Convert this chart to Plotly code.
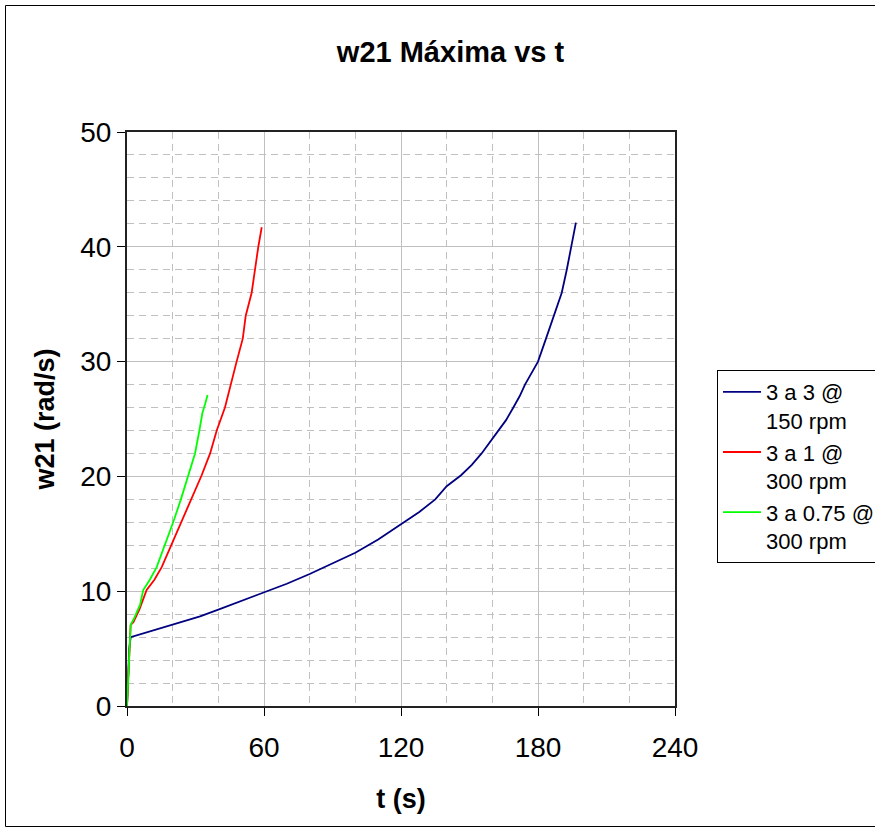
import plotly.graph_objects as go

# Series: time (s) and maximum w21 (rad/s)
t_3a3_150 = [0, 0.5, 1.0, 1.6, 5, 10, 20, 32, 40, 49.5, 60, 70, 80, 90, 100, 110, 120,
             128, 135, 140, 146.3, 151, 155.3, 159, 162.6, 166, 169.2, 172, 174.3, 177,
             180, 183.5, 187, 190.4, 192.6, 194.5, 195.6, 196.6]
w_3a3_150 = [0, 2.5, 5.0, 6.0, 6.2, 6.5, 7.05, 7.8, 8.4, 9.1, 9.85, 10.65, 11.5, 12.4, 13.35, 14.5, 15.8,
             16.9, 18.0, 19.15, 20.1, 21.0, 22.0, 23.0, 24.0, 24.9, 26.0, 27.0, 28.0, 29.0,
             30.0, 32.0, 34.0, 36.0, 38.0, 40.0, 41.0, 42.1]

t_3a1_300 = [0, 0.8, 1.6, 2.8, 5.4, 8.6, 12, 15.2, 19.3, 23.9, 28, 32.7, 36.4, 39.3, 42.9,
             45.5, 48, 50.7, 52, 54.6, 55.9, 57.5, 59]
w_3a1_300 = [0, 3.5, 7.06, 7.3, 8.4, 10.1, 11.0, 12.1, 14.0, 16.05, 18.0, 20.1, 22.0, 24.0, 26.0,
             28.1, 30.0, 32.0, 34.0, 36.0, 38.0, 40.0, 41.7]

t_3a075_300 = [0, 0.8, 1.6, 3, 5.7, 7.1, 10, 13, 16.6, 20.3, 23.6, 26.9, 29.8, 31.7, 33, 34.2, 35.3]
w_3a075_300 = [0, 3.5, 7.06, 7.6, 8.8, 10.1, 11.0, 12.1, 14.0, 16.05, 18.0, 20.1, 22.0, 24.0, 25.5, 26.3, 27.1]

series_names = ["3 a 3 @<br>150 rpm", "3 a 1 @<br>300 rpm", "3 a 0.75 @<br>300 rpm"]
series_colors = ["#000080", "#ff0000", "#00ff00"]

x_ticks = [0, 60, 120, 180, 240]
y_ticks = [0, 10, 20, 30, 40, 50]

FONT = "Liberation Sans, Arial, sans-serif"
W, H = 875, 829
L, R, T, B = 127, 675, 132, 706  # plot area edges in pixels

fig = go.Figure()
for tx, wy, name, col in zip([t_3a3_150, t_3a1_300, t_3a075_300],
                             [w_3a3_150, w_3a1_300, w_3a075_300],
                             series_names, series_colors):
    fig.add_trace(go.Scatter(x=tx, y=wy, mode="lines", name=name,
                             line=dict(color=col, width=1.8)))

pw, ph = R - L, B - T


def px_x(p):
    return (p - L) / pw


def px_y(p):
    return (B - p) / ph


grid = "#c0c0c0"
fig.update_layout(
    width=W, height=H,
    margin=dict(l=L, r=W - R, t=T, b=H - B, autoexpand=False),
    paper_bgcolor="white", plot_bgcolor="white",
    font=dict(family=FONT, color="black"),
    title=dict(text="<b>w21 Máxima vs t</b>", font=dict(size=29, family=FONT, color="black"),
               x=450.5 / W, xref="container", xanchor="center",
               y=1 - 52 / H, yref="container", yanchor="middle"),
    showlegend=True,
    legend=dict(x=px_x(717), y=px_y(370), xanchor="left", yanchor="top",
                bordercolor="black", borderwidth=1, bgcolor="white",
                font=dict(size=22, family=FONT, color="black"),
                valign="top", tracegroupgap=0, itemwidth=38),
    xaxis=dict(range=[0, 240], tickvals=x_ticks, ticktext=[str(v) for v in x_ticks],
               showgrid=True, gridcolor=grid, gridwidth=1,
               minor=dict(dtick=20, tick0=0, showgrid=True, gridcolor=grid, griddash="7px,5px", gridwidth=1),
               showline=True, linecolor="#222", linewidth=2, mirror=True,
               ticks="outside", ticklen=8, tickcolor="black", tickwidth=1,
               tickfont=dict(size=28, family=FONT, color="black"),
               ticklabelstandoff=7, zeroline=False,
               title=dict(text="<b>t (s)</b>", font=dict(size=27, family=FONT, color="black"), standoff=28)),
    yaxis=dict(range=[0, 50], tickvals=y_ticks, ticktext=[str(v) for v in y_ticks],
               showgrid=True, gridcolor=grid, gridwidth=1,
               minor=dict(dtick=2, tick0=0, showgrid=True, gridcolor=grid, griddash="7px,5px", gridwidth=1),
               showline=True, linecolor="#222", linewidth=2, mirror=True,
               ticks="outside", ticklen=8, tickcolor="black", tickwidth=1,
               tickfont=dict(size=28, family=FONT, color="black"),
               zeroline=False,
               title=dict(text="<b>w21 (rad/s)</b>", font=dict(size=27, family=FONT, color="black"), standoff=18)),
)

# Chart-area frame
fig.add_shape(type="rect", xref="paper", yref="paper",
              x0=px_x(5.5), x1=px_x(900), y0=px_y(826.5), y1=px_y(5.5),
              line=dict(color="black", width=1), fillcolor="rgba(0,0,0,0)", layer="below")

fig.write_html("out.html")
